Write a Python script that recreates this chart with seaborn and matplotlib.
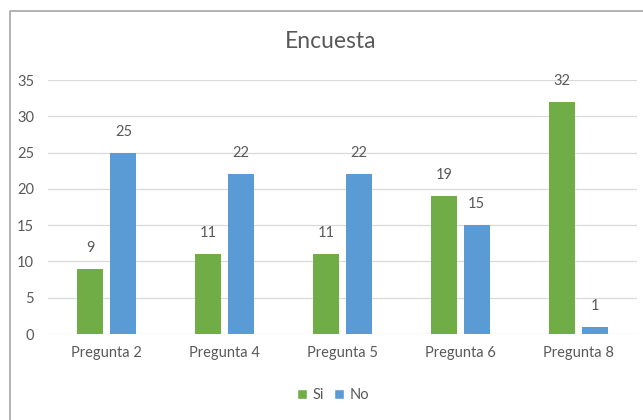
import matplotlib
matplotlib.use("Agg")
import matplotlib.pyplot as plt
import seaborn as sns
import pandas as pd
from matplotlib.lines import Line2D
from matplotlib.patches import Patch

categorias = ["Pregunta 2", "Pregunta 4", "Pregunta 5", "Pregunta 6", "Pregunta 8"]
si = [9, 11, 11, 19, 32]
no = [25, 22, 22, 15, 1]
series = ["Si", "No"]
colores = ["#70AD47", "#5B9BD5"]
titulo = "Encuesta"
yticks = [0, 5, 10, 15, 20, 25, 30, 35]

sns.set_theme(style="white")
plt.rcParams["font.family"] = ["Lato", "DejaVu Sans"]
txt = "#595959"

df = pd.DataFrame({
    "Pregunta": categorias * 2,
    "Valor": si + no,
    "Respuesta": [series[0]] * len(categorias) + [series[1]] * len(categorias),
})

W, H = 643, 420
fig = plt.figure(figsize=(W / 100, H / 100), dpi=100)
ax = fig.add_axes([48 / W, 86 / H, 589 / W, 254 / H])

sns.barplot(data=df, x="Pregunta", y="Valor", hue="Respuesta", palette=colores,
            hue_order=series, width=0.56, gap=0.21, ax=ax, legend=False,
            linewidth=0, saturation=1)

for c in ax.containers:
    ax.bar_label(c, padding=10, fontsize=10.5, color=txt)

ax.set_ylim(0, 35)
ax.set_yticks(yticks)
ax.yaxis.grid(True, color="#D9D9D9", linewidth=0.9)
ax.set_axisbelow(True)
for s in ax.spines.values():
    s.set_visible(False)
ax.set_xlabel("")
ax.set_ylabel("")
ax.tick_params(axis="both", length=0, colors=txt, labelsize=10.5)
ax.tick_params(axis="x", pad=9)
ax.tick_params(axis="y", pad=10)

fig.text(331 / W, 1 - 42 / H, titulo, ha="center", va="center", fontsize=16.5, color=txt)

handles = [Patch(facecolor=colores[i], label=series[i]) for i in range(2)]
fig.legend(handles=handles, loc="center", bbox_to_anchor=(333 / W, 1 - 395 / H), ncol=2,
           frameon=False, handlelength=0.65, handleheight=0.75, columnspacing=0.7,
           handletextpad=0.4, fontsize=10.5, labelcolor=txt)

border = Line2D([9.5 / W, 9.5 / W, 1.0], [0.0, 1 - 10.5 / H, 1 - 10.5 / H],
                transform=fig.transFigure, color="#A6A6A6", linewidth=1.2)
fig.add_artist(border)

fig.savefig("out.png", dpi=100)
